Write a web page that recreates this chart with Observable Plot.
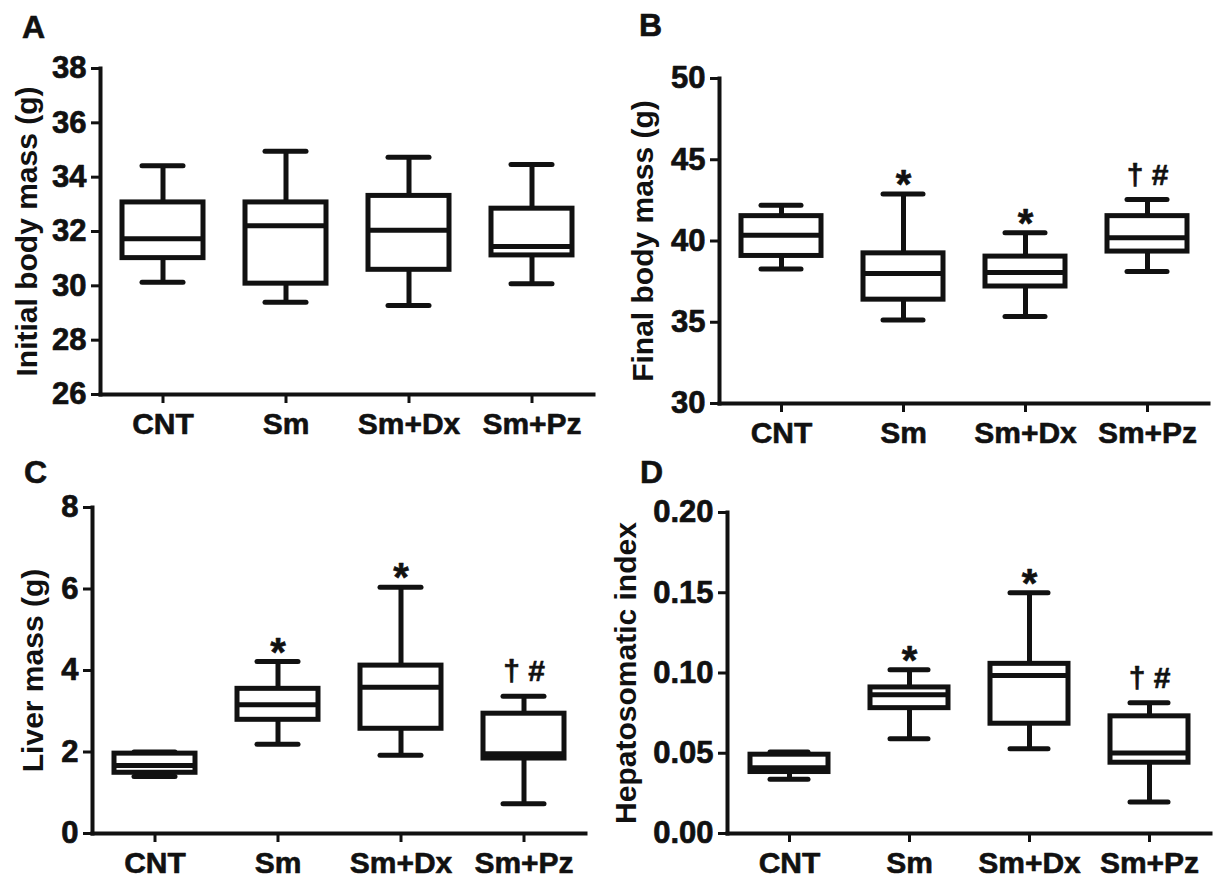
<!DOCTYPE html>
<html>
<head>
<meta charset="utf-8">
<script src="https://cdn.jsdelivr.net/npm/d3@7"></script>
<script src="https://cdn.jsdelivr.net/npm/@observablehq/plot@0.6"></script>
<style>
  html, body { margin: 0; padding: 0; background: #fff; }
  body { width: 1213px; height: 877px; position: relative; overflow: hidden; font-family: "Liberation Sans", Arial, sans-serif; }
  .panel { position: absolute; }
  .letter { position: absolute; font-weight: bold; font-size: 32px; line-height: 1; color: #111; -webkit-text-stroke: 0.6px #111; }
</style>
</head>
<body>
<div class="letter" style="left:22px;top:11px">A</div>
<div class="letter" style="left:639px;top:9px">B</div>
<div class="letter" style="left:24px;top:456px">C</div>
<div class="letter" style="left:640px;top:456px">D</div>
<div id="pA" class="panel" style="left:0px;top:0px;width:600px"></div>
<div id="pB" class="panel" style="left:600px;top:0px;width:613px"></div>
<div id="pC" class="panel" style="left:0px;top:440px;width:600px"></div>
<div id="pD" class="panel" style="left:600px;top:440px;width:613px"></div>
<script>
// ---- data ----
const groups = ["CNT", "Sm", "Sm+Dx", "Sm+Pz"];

// A: Initial body mass (g)
const initMin = [30.13, 29.40, 29.28, 30.08];
const initQ1  = [31.02, 30.08, 30.59, 31.12];
const initMed = [31.73, 32.21, 32.05, 31.45];
const initQ3  = [33.07, 33.07, 33.31, 32.84];
const initMax = [34.42, 34.95, 34.73, 34.47];
const initTicks = [26, 28, 30, 32, 34, 36, 38];

// B: Final body mass (g)
const finalMin = [38.27, 35.14, 35.35, 38.12];
const finalQ1  = [39.08, 36.39, 37.20, 39.35];
const finalMed = [40.35, 38.00, 38.06, 40.20];
const finalQ3  = [41.53, 39.24, 39.04, 41.53];
const finalMax = [42.20, 42.90, 40.51, 42.55];
const finalSig = ["", "*", "*", "† #"];
const finalTicks = [30, 35, 40, 45, 50];

// C: Liver mass (g)
const liverMin = [1.40, 2.19, 1.92, 0.73];
const liverQ1  = [1.49, 2.79, 2.57, 1.84];
const liverMed = [1.67, 3.16, 3.59, 1.96];
const liverQ3  = [1.96, 3.55, 4.12, 2.94];
const liverMax = [2.00, 4.22, 6.04, 3.37];
const liverSig = ["", "*", "*", "† #"];
const liverTicks = [0, 2, 4, 6, 8];

// D: Hepatosomatic index
const hsiMin = [0.0338, 0.0591, 0.0528, 0.0197];
const hsiQ1  = [0.0383, 0.0781, 0.0684, 0.0441];
const hsiMed = [0.0410, 0.0865, 0.0984, 0.0502];
const hsiQ3  = [0.0491, 0.0910, 0.1057, 0.0730];
const hsiMax = [0.0508, 0.1020, 0.1500, 0.0815];
const hsiSig = ["", "*", "*", "† #"];
const hsiTicks = [0, 0.05, 0.10, 0.15, 0.20];

const INK = "#111";
const FONT = "'Liberation Sans', Arial, sans-serif";

function boxPanel(cfg) {
  const rows = groups.map((g, i) => ({
    g, min: cfg.mins[i], q1: cfg.q1s[i], med: cfg.meds[i], q3: cfg.q3s[i], max: cfg.maxs[i],
    sig: cfg.sig ? cfg.sig[i] : ""
  }));
  const stars = rows.filter(d => d.sig === "*");
  const daggers = rows.filter(d => d.sig && d.sig !== "*");
  const sw = 5;
  const plot = Plot.plot({
    width: cfg.width,
    height: cfg.height,
    marginLeft: cfg.ml, marginRight: cfg.mr, marginTop: cfg.mt, marginBottom: cfg.mb,
    style: { fontFamily: FONT, fontWeight: "bold", color: INK, background: "transparent", overflow: "visible" },
    x: { domain: groups, padding: 0, label: null },
    y: { domain: cfg.yDomain, label: null },
    marks: [
      Plot.ruleX(rows, { x: "g", y1: "min", y2: "max", stroke: INK, strokeWidth: sw }),
      Plot.barY(rows, { x: "g", y1: "q1", y2: "q3", fill: "white", stroke: INK, strokeWidth: sw, insetLeft: 21, insetRight: 21 }),
      Plot.tickY(rows, { x: "g", y: "med", stroke: INK, strokeWidth: sw, insetLeft: 21, insetRight: 21 }),
      Plot.tickY(rows, { x: "g", y: "max", stroke: INK, strokeWidth: sw, strokeLinecap: "round", insetLeft: 41, insetRight: 41 }),
      Plot.tickY(rows, { x: "g", y: "min", stroke: INK, strokeWidth: sw, strokeLinecap: "round", insetLeft: 41, insetRight: 41 }),
      Plot.text(stars, { x: "g", y: "max", text: "sig", fontSize: 40, fontWeight: "bold", lineAnchor: "bottom", dy: 4, fill: INK, stroke: INK, strokeWidth: 0.6 }),
      Plot.text(daggers, { x: "g", y: "max", text: "sig", fontSize: 30, fontWeight: "bold", lineAnchor: "bottom", dy: -15, fill: INK, stroke: INK, strokeWidth: 0.6 }),
      Plot.frame({ anchor: "left", stroke: INK, strokeWidth: 4, strokeLinecap: "square" }),
      Plot.frame({ anchor: "bottom", stroke: INK, strokeWidth: 4, strokeLinecap: "square" }),
      Plot.axisY({ ticks: cfg.yTicks, tickFormat: cfg.yFormat, tickSize: 9, tickPadding: 5, fontSize: 31, fontWeight: "bold", strokeWidth: 3, stroke: INK, textStroke: INK, textStrokeWidth: 0.7, label: null }),
      Plot.axisY({ ticks: [], tickSize: 0, label: cfg.label, labelAnchor: "center", labelArrow: false, labelOffset: cfg.labelOffset, fontSize: 30, fontWeight: "bold", textStroke: INK, textStrokeWidth: 0.5 }),
      Plot.axisX({ tickSize: 9, tickPadding: 9, fontSize: 30, fontWeight: "bold", strokeWidth: 3, stroke: INK, textStroke: INK, textStrokeWidth: 0.6, label: null })
    ]
  });
  document.getElementById(cfg.el).appendChild(plot);
}

boxPanel({ el: "pA", width: 600, height: 440, ml: 100, mr: 7, mt: 68, mb: 46,
  yDomain: [26, 38], yTicks: initTicks, yFormat: d3.format("d"), label: "Initial body mass (g)", labelOffset: 85,
  mins: initMin, q1s: initQ1, meds: initMed, q3s: initQ3, maxs: initMax, sig: null });

boxPanel({ el: "pB", width: 613, height: 440, ml: 119, mr: 5, mt: 78, mb: 37,
  yDomain: [30, 50], yTicks: finalTicks, yFormat: d3.format("d"), label: "Final body mass (g)", labelOffset: 88,
  mins: finalMin, q1s: finalQ1, meds: finalMed, q3s: finalQ3, maxs: finalMax, sig: finalSig });

boxPanel({ el: "pC", width: 600, height: 437, ml: 92, mr: 15, mt: 67, mb: 44,
  yDomain: [0, 8], yTicks: liverTicks, yFormat: d3.format("d"), label: "Liver mass (g)", labelOffset: 71,
  mins: liverMin, q1s: liverQ1, meds: liverMed, q3s: liverQ3, maxs: liverMax, sig: liverSig });

boxPanel({ el: "pD", width: 613, height: 437, ml: 127, mr: 3, mt: 72, mb: 44,
  yDomain: [0, 0.20], yTicks: hsiTicks, yFormat: d3.format(".2f"), label: "Hepatosomatic index", labelOffset: 113,
  mins: hsiMin, q1s: hsiQ1, meds: hsiMed, q3s: hsiQ3, maxs: hsiMax, sig: hsiSig });
</script>
</body>
</html>
